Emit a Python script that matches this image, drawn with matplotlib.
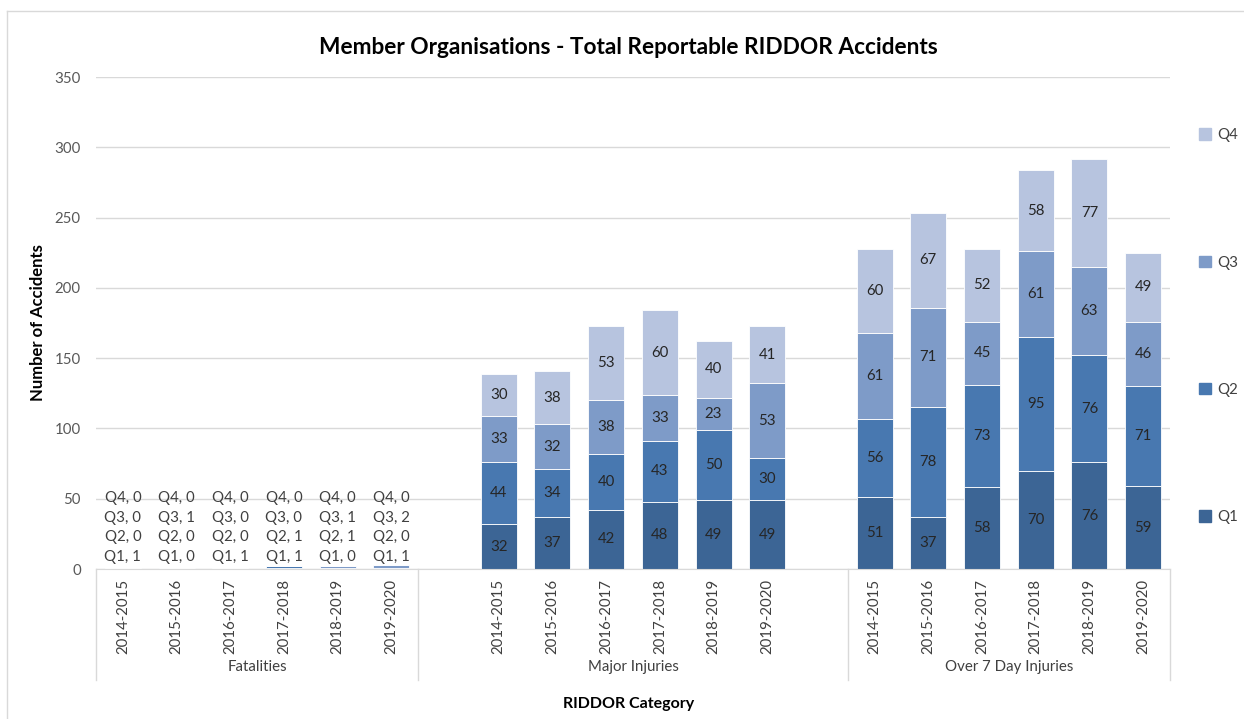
import numpy as np
import matplotlib.pyplot as plt
from matplotlib.lines import Line2D
from matplotlib.patches import Patch

plt.rcParams['font.family'] = ['Lato', 'DejaVu Sans']

# ---------------------------------------------------------------- datos
groups = ['Fatalities', 'Major Injuries', 'Over 7 Day Injuries']
years = ['2014-2015', '2015-2016', '2016-2017', '2017-2018', '2018-2019', '2019-2020']
quarters = ['Q1', 'Q2', 'Q3', 'Q4']

fatal_q1 = [1, 0, 1, 1, 0, 1]
fatal_q2 = [0, 0, 0, 1, 1, 0]
fatal_q3 = [0, 1, 0, 0, 1, 2]
fatal_q4 = [0, 0, 0, 0, 0, 0]

major_q1 = [32, 37, 42, 48, 49, 49]
major_q2 = [44, 34, 40, 43, 50, 30]
major_q3 = [33, 32, 38, 33, 23, 53]
major_q4 = [30, 38, 53, 60, 40, 41]

over7_q1 = [51, 37, 58, 70, 76, 59]
over7_q2 = [56, 78, 73, 95, 76, 71]
over7_q3 = [61, 71, 45, 61, 63, 46]
over7_q4 = [60, 67, 52, 58, 77, 49]

colors = ['#3c6595', '#4878b0', '#7e9bc8', '#b7c4df']

# posiciones: 6 barras, hueco, 6 barras, hueco, 6 barras
x_fatal = np.arange(0, 6)
x_major = np.arange(7, 13)
x_over7 = np.arange(14, 20)

fig = plt.figure(figsize=(12.44, 7.19), dpi=100)
ax = fig.add_axes([0.0772, 0.2086, 0.8633, 0.6843])

bw = 0.67
series = [
    (x_fatal, [fatal_q1, fatal_q2, fatal_q3, fatal_q4]),
    (x_major, [major_q1, major_q2, major_q3, major_q4]),
    (x_over7, [over7_q1, over7_q2, over7_q3, over7_q4]),
]

for gi, (xs, qs) in enumerate(series):
    bottom = np.zeros(len(xs))
    for qi, vals in enumerate(qs):
        vals = np.array(vals)
        bars = ax.bar(xs, vals, bw, bottom=bottom, color=colors[qi],
                      edgecolor='white', linewidth=0.6, zorder=2)
        if gi == 0:
            # etiquetas apiladas sobre las barras de Fatalities
            for x, v in zip(xs, vals):
                ax.annotate(f'{quarters[qi]}, {v}', xy=(x, 0),
                            xytext=(0, 12 + 19.7 * qi), textcoords='offset pixels',
                            ha='center', va='center', fontsize=10.8, color='#404040')
        else:
            ax.bar_label(bars, labels=[str(v) for v in vals], label_type='center',
                         fontsize=10.8, color='#262626')
        bottom += vals

ax.set_xlim(-0.5, 19.5)
ax.set_ylim(0, 350)
ax.set_yticks(np.arange(0, 351, 50))
ax.tick_params(axis='y', length=0, labelsize=10.8, labelcolor='#595959', pad=11)
ax.yaxis.grid(True, color='#d9d9d9', linewidth=1, zorder=0)
ax.set_axisbelow(True)
for s in ['top', 'right', 'left']:
    ax.spines[s].set_visible(False)
ax.spines['bottom'].set_color('#d9d9d9')
ax.set_xticks([])

# ejes de categorias de dos niveles
trans = ax.get_xaxis_transform()
for xb in [-0.5, 5.5, 13.5, 19.5]:
    ax.add_line(Line2D([xb, xb], [0, -0.225], transform=trans, color='#d9d9d9',
                       linewidth=1, clip_on=False))
for xs in [x_fatal, x_major, x_over7]:
    for x, yr in zip(xs, years):
        ax.text(x, -0.02, yr, transform=trans, rotation=90, ha='center', va='top',
                fontsize=10.8, color='#404040')
for gname, xc in zip(groups, [2.5, 9.5, 16.5]):
    ax.text(xc, -0.2, gname, transform=trans, ha='center', va='center',
            fontsize=10.8, color='#404040')

ax.set_ylabel('Number of Accidents', fontsize=12, fontweight='bold', labelpad=6)
fig.text(0.505, 0.021, 'RIDDOR Category', ha='center', va='center',
         fontsize=11.5, fontweight='bold')
fig.text(0.505, 0.934, 'Member Organisations - Total Reportable RIDDOR Accidents',
         ha='center', va='center', fontsize=16.3, fontweight='bold')

# leyenda a la derecha, Q4 arriba
handles = [Patch(color=colors[i]) for i in range(3, -1, -1)]
labels = [quarters[i] for i in range(3, -1, -1)]
fig.legend(handles, labels, loc='upper left', bbox_to_anchor=(0.958, 0.832),
           frameon=False, fontsize=10.8, labelcolor='#404040',
           handlelength=0.8, handleheight=0.8, handletextpad=0.4,
           labelspacing=7.55, borderpad=0)

# marco del grafico
fig.add_artist(Line2D([0.006, 0.006], [0, 0.985], color='#d9d9d9', linewidth=1))
fig.add_artist(Line2D([0.006, 1.0], [0.985, 0.985], color='#d9d9d9', linewidth=1))

fig.savefig('out.png', dpi=100)
